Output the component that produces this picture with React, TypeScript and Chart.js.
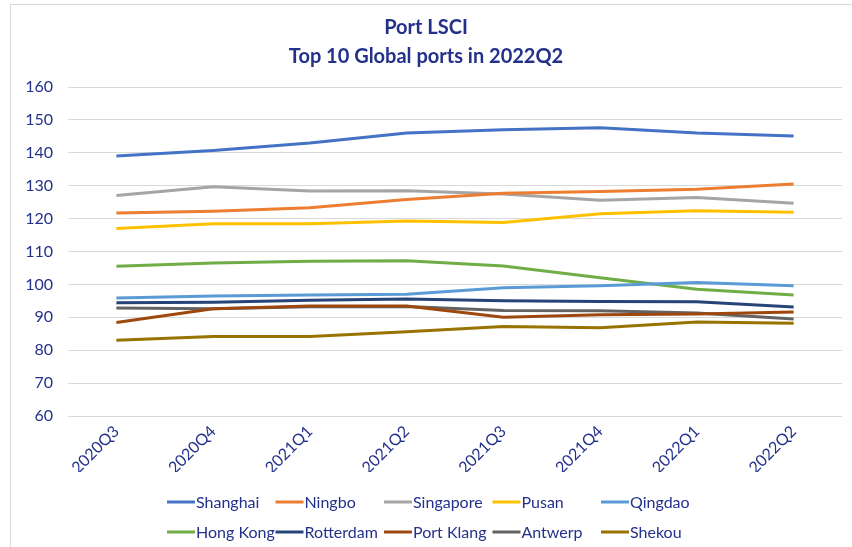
import React, { useEffect, useRef } from "react";
import { Chart, registerables } from "chart.js";

Chart.register(...registerables);

const categories = ["2020Q3", "2020Q4", "2021Q1", "2021Q2", "2021Q3", "2021Q4", "2022Q1", "2022Q2"];

const shanghai = [139.0, 140.7, 143.0, 146.0, 147.0, 147.6, 146.0, 145.1];
const ningbo = [121.7, 122.2, 123.3, 125.8, 127.7, 128.2, 128.9, 130.5];
const singapore = [127.0, 129.7, 128.4, 128.5, 127.5, 125.6, 126.4, 124.7];
const pusan = [117.0, 118.4, 118.4, 119.3, 118.8, 121.5, 122.4, 121.9];
const qingdao = [95.9, 96.5, 96.8, 97.0, 99.0, 99.6, 100.6, 99.6];
const hongKong = [105.5, 106.5, 107.0, 107.2, 105.6, 102.0, 98.5, 96.8];
const rotterdam = [94.4, 94.6, 95.2, 95.6, 95.0, 94.8, 94.7, 93.1];
const portKlang = [88.4, 92.6, 93.4, 93.4, 90.0, 90.8, 91.0, 91.6];
const antwerp = [92.8, 92.6, 93.2, 93.3, 92.1, 92.0, 91.3, 89.5];
const shekou = [83.0, 84.2, 84.2, 85.6, 87.2, 86.8, 88.6, 88.2];

const seriesNames = ["Shanghai", "Ningbo", "Singapore", "Pusan", "Qingdao", "Hong Kong", "Rotterdam", "Port Klang", "Antwerp", "Shekou"];
const seriesValues = [shanghai, ningbo, singapore, pusan, qingdao, hongKong, rotterdam, portKlang, antwerp, shekou];
const seriesColors = ["#4472C4", "#ED7D31", "#A5A5A5", "#FFC000", "#5B9BD5", "#70AD47", "#264478", "#9E480E", "#636363", "#997300"];

const titleLines = ["Port LSCI", "Top 10 Global ports in 2022Q2"];
const textColor = "#23318A";
const fontFamily = "Lato, 'Open Sans', sans-serif";

const gridLegend = {
  id: "gridLegend",
  afterDraw(chart: any) {
    const ctx = chart.ctx;
    ctx.save();
    ctx.font = `16px ${fontFamily}`;
    ctx.textBaseline = "middle";
    ctx.textAlign = "left";
    chart.data.datasets.forEach((ds: any, i: number) => {
      const col = i % 5;
      const row = Math.floor(i / 5);
      const x = 167 + col * 108.5;
      const y = 502 + row * 30;
      ctx.strokeStyle = ds.borderColor;
      ctx.lineWidth = 3;
      ctx.beginPath();
      ctx.moveTo(x, y);
      ctx.lineTo(x + 28, y);
      ctx.stroke();
      ctx.fillStyle = textColor;
      ctx.fillText(ds.label, x + 29, y + 1);
    });
    ctx.restore();
  },
};

export default function App() {
  const canvasRef = useRef<HTMLCanvasElement | null>(null);

  useEffect(() => {
    if (!canvasRef.current) return;
    const chart = new Chart(canvasRef.current, {
      type: "line",
      data: {
        labels: categories,
        datasets: seriesNames.map((name, i) => ({
          label: name,
          data: seriesValues[i],
          borderColor: seriesColors[i],
          backgroundColor: seriesColors[i],
          borderWidth: 3,
          pointRadius: 0,
          tension: 0,
        })),
      },
      options: {
        animation: false,
        responsive: false,
        maintainAspectRatio: false,
        layout: { padding: { left: 10, right: 10, top: 0, bottom: 75 } },
        plugins: {
          legend: { display: false },
          tooltip: { enabled: false },
          title: {
            display: true,
            text: titleLines,
            color: textColor,
            font: { family: fontFamily, size: 20, weight: "bold", lineHeight: 1.45 },
            padding: { top: 13, bottom: 16 },
          },
        },
        scales: {
          x: {
            offset: true,
            grid: { display: false, drawTicks: false },
            border: { display: false },
            ticks: {
              color: textColor,
              font: { family: fontFamily, size: 16 },
              maxRotation: 45,
              minRotation: 45,
              padding: 6,
              autoSkip: false,
            },
            afterFit: (s: any) => {
              s.height = 56;
            },
          },
          y: {
            min: 60,
            max: 160,
            grid: { color: "#D9D9D9", lineWidth: 1, drawTicks: false },
            border: { display: false },
            ticks: {
              stepSize: 10,
              color: textColor,
              font: { family: fontFamily, size: 16 },
              padding: 15,
            },
            afterFit: (s: any) => {
              s.width = 58;
            },
          },
        },
      },
      plugins: [gridLegend],
    });
    return () => chart.destroy();
  }, []);

  return (
    <div style={{ position: "fixed", left: 0, top: 0, width: 852, height: 547, background: "#fff", overflow: "hidden" }}>
      <div style={{ position: "absolute", left: 10, top: 4, width: 900, height: 600, border: "1px solid #D9D9D9" }} />
      <canvas ref={canvasRef} width={852} height={547} style={{ position: "absolute", left: 0, top: 0, width: 852, height: 547 }} />
    </div>
  );
}
